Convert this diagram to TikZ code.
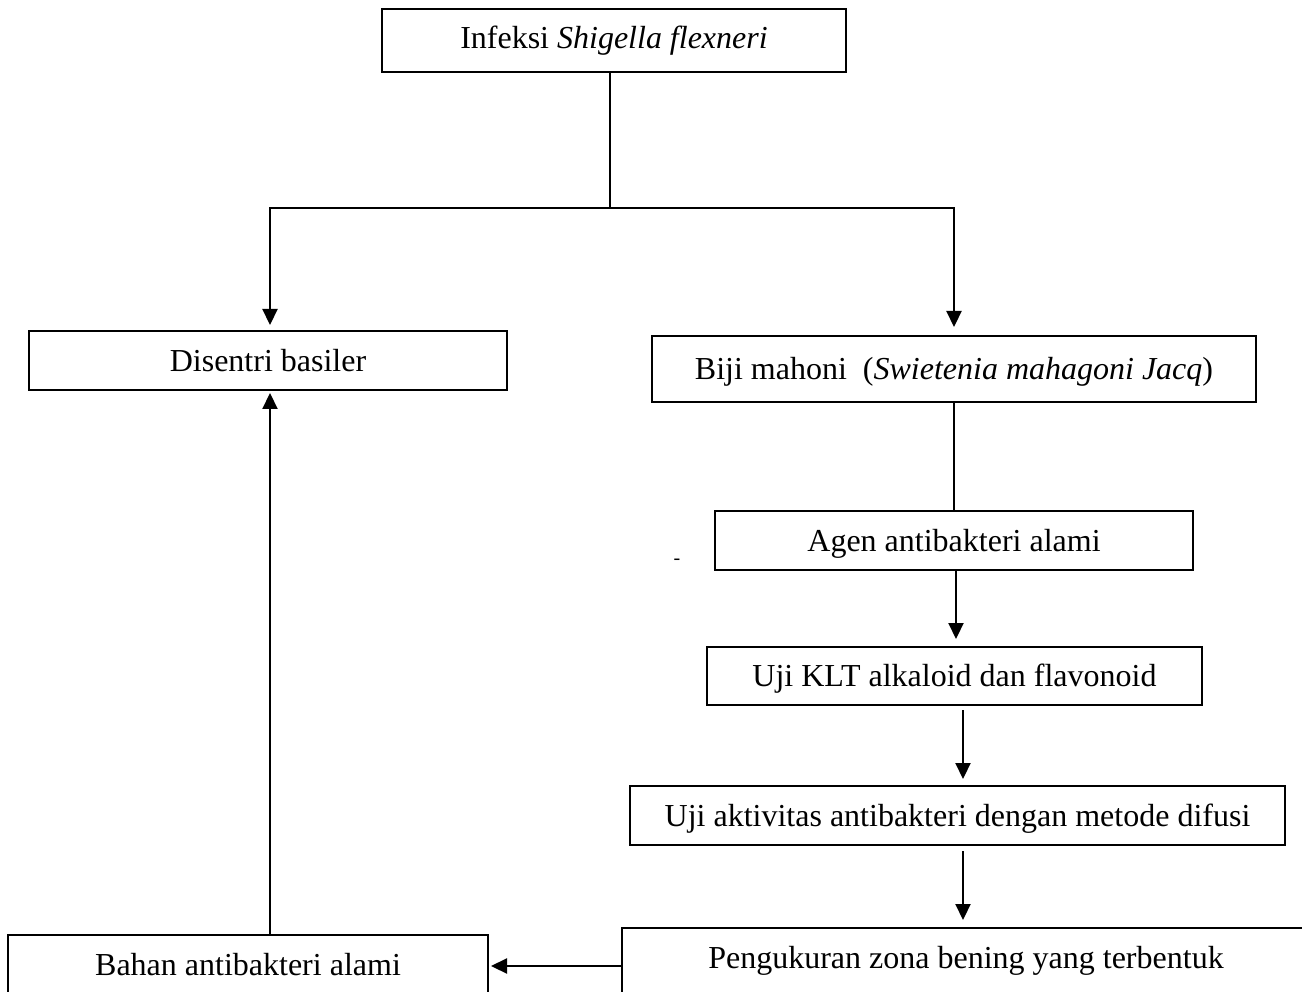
\documentclass[tikz,border=0pt]{standalone}
\usepackage{fontspec}
\setmainfont{Liberation Serif}
\usetikzlibrary{arrows.meta}
\begin{document}
\begin{tikzpicture}[x=1pt,y=-1pt,
  box/.style={draw,line width=2pt,rectangle,inner sep=0pt,font=\fontsize{32}{36}\selectfont,
    text height=23pt,text depth=1.6pt},
  conn/.style={line width=2.2pt},
  arr/.style={line width=2.2pt,-{Triangle[length=16pt,width=15pt]}}]
\useasboundingbox (0,0) rectangle (1302,992);
\clip (0,0) rectangle (1302,992);
\node[box,minimum width=464pt,minimum height=63pt,text height=19pt,text depth=2pt] (top) at (614,40.5) {Infeksi \textit{Shigella flexneri}};
\node[box,minimum width=478pt,minimum height=59pt] (dis) at (268,360.5) {Disentri basiler};
\node[box,minimum width=604pt,minimum height=66pt] (biji) at (954,369) {Biji mahoni\ \ (\textit{Swietenia mahagoni Jacq})};
\node[box,minimum width=478pt,minimum height=59pt] (agen) at (954,540.5) {Agen antibakteri alami};
\node[box,minimum width=495pt,minimum height=58pt] (klt) at (954.5,676) {Uji KLT alkaloid dan flavonoid};
\node[box,minimum width=655pt,minimum height=59pt] (akt) at (957.5,815.5) {Uji aktivitas antibakteri dengan metode difusi};
\node[box,minimum width=688pt,minimum height=68pt,text height=14.6pt,text depth=2pt] (peng) at (966,962) {Pengukuran zona bening yang terbentuk};
\node[box,minimum width=480pt,minimum height=60pt,text height=22pt,text depth=2pt] (bahan) at (248,965) {Bahan antibakteri alami};
\node[font=\fontsize{20}{24}\selectfont,inner sep=0pt] (hy) at (677,562) {-};
\coordinate (split) at (610,208);
\coordinate (lft) at (270,208);
\coordinate (rgt) at (954,208);
\draw[conn] (top.south -| split) -- (split);
\draw[conn,line cap=rect] (lft) -- (rgt);
\draw[arr] (lft) -- ([yshift=5pt]dis.north -| lft);
\draw[arr] (rgt) -- ([yshift=8pt]biji.north -| rgt);
\draw[conn] (biji.south -| rgt) -- (agen.north -| rgt);
\draw[arr] (agen.south -| 956,0) -- ([yshift=7pt]klt.north -| 956,0);
\draw[arr] ([yshift=-4pt]klt.south -| 963,0) -- ([yshift=6pt]akt.north -| 963,0);
\draw[arr] ([yshift=-5pt]akt.south -| 963,0) -- ([yshift=7pt]peng.north -| 963,0);
\draw[arr] (peng.west |- 0,966) -- ([xshift=2pt]bahan.east |- 0,966);
\draw[arr] (bahan.north -| lft) -- ([yshift=-2pt]dis.south -| lft);
\end{tikzpicture}
\end{document}
